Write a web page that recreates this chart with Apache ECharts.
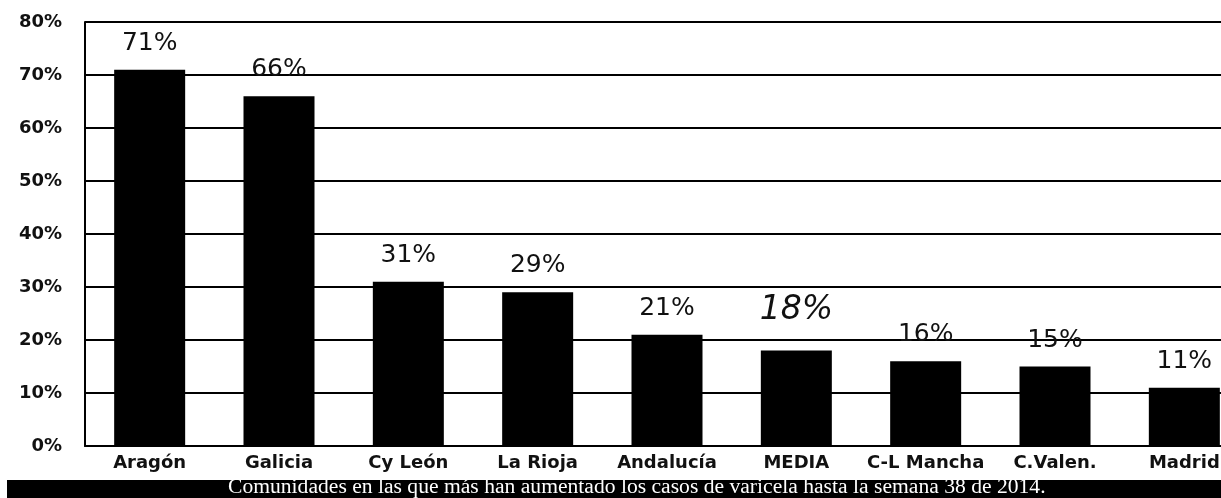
<!DOCTYPE html>
<html><head><meta charset="utf-8">
<script src="https://cdn.jsdelivr.net/npm/echarts@6/dist/echarts.min.js"></script>
<style>html,body{margin:0;padding:0;background:#fff;overflow:hidden;width:1221px;height:498px}#c{width:1249px;height:498px}</style>
</head><body><div id="c"></div>
<script>
const categories = ['Aragón','Galicia','Cy León','La Rioja','Andalucía','MEDIA','C-L Mancha','C.Valen.','Madrid'];
const values = [71, 66, 31, 29, 21, 18, 16, 15, 11];
const highlightCategory = 'MEDIA';
const caption = 'Comunidades en las que más han aumentado los casos de varicela hasta la semana 38 de 2014.';

const chart = echarts.init(document.getElementById('c'));
const data = values.map((v, i) => {
  const item = { value: v };
  if (categories[i] === highlightCategory) {
    item.label = { fontStyle: 'italic', fontSize: 33, distance: 24 };
  }
  return item;
});
chart.setOption({
  animation: false,
  backgroundColor: '#fff',
  grid: { left: 85, right: 0, top: 22, bottom: 52, containLabel: false },
  xAxis: {
    type: 'category', data: categories,
    axisLine: { show: true, lineStyle: { color: '#000', width: 2 } },
    axisTick: { show: false },
    axisLabel: { color: '#111', fontFamily: 'DejaVu Sans', fontWeight: 'bold', fontSize: 18, margin: 8, interval: 0 }
  },
  yAxis: {
    type: 'value', min: 0, max: 80, interval: 10,
    axisLine: { show: true, lineStyle: { color: '#000', width: 2 } },
    axisTick: { show: false },
    axisLabel: { formatter: '{value}%', color: '#111', fontFamily: 'DejaVu Sans', fontWeight: 'bold', fontSize: 18, margin: 23 },
    splitLine: { show: true, lineStyle: { color: '#000', width: 2 } }
  },
  series: [{
    type: 'bar', data: data, barWidth: 71,
    itemStyle: { color: '#000' },
    label: { show: true, position: 'top', formatter: '{c}%', color: '#111', fontFamily: 'DejaVu Sans', fontSize: 25, distance: 14 }
  }],
  graphic: [
    { type: 'rect', left: 7, top: 480, shape: { width: 1242, height: 18 }, style: { fill: '#000' } },
    { type: 'text', x: 228, y: 478, scaleX: 1.08, style: { text: caption, fill: '#fff', font: '20px "Liberation Serif"' } }
  ]
});
</script></body></html>
